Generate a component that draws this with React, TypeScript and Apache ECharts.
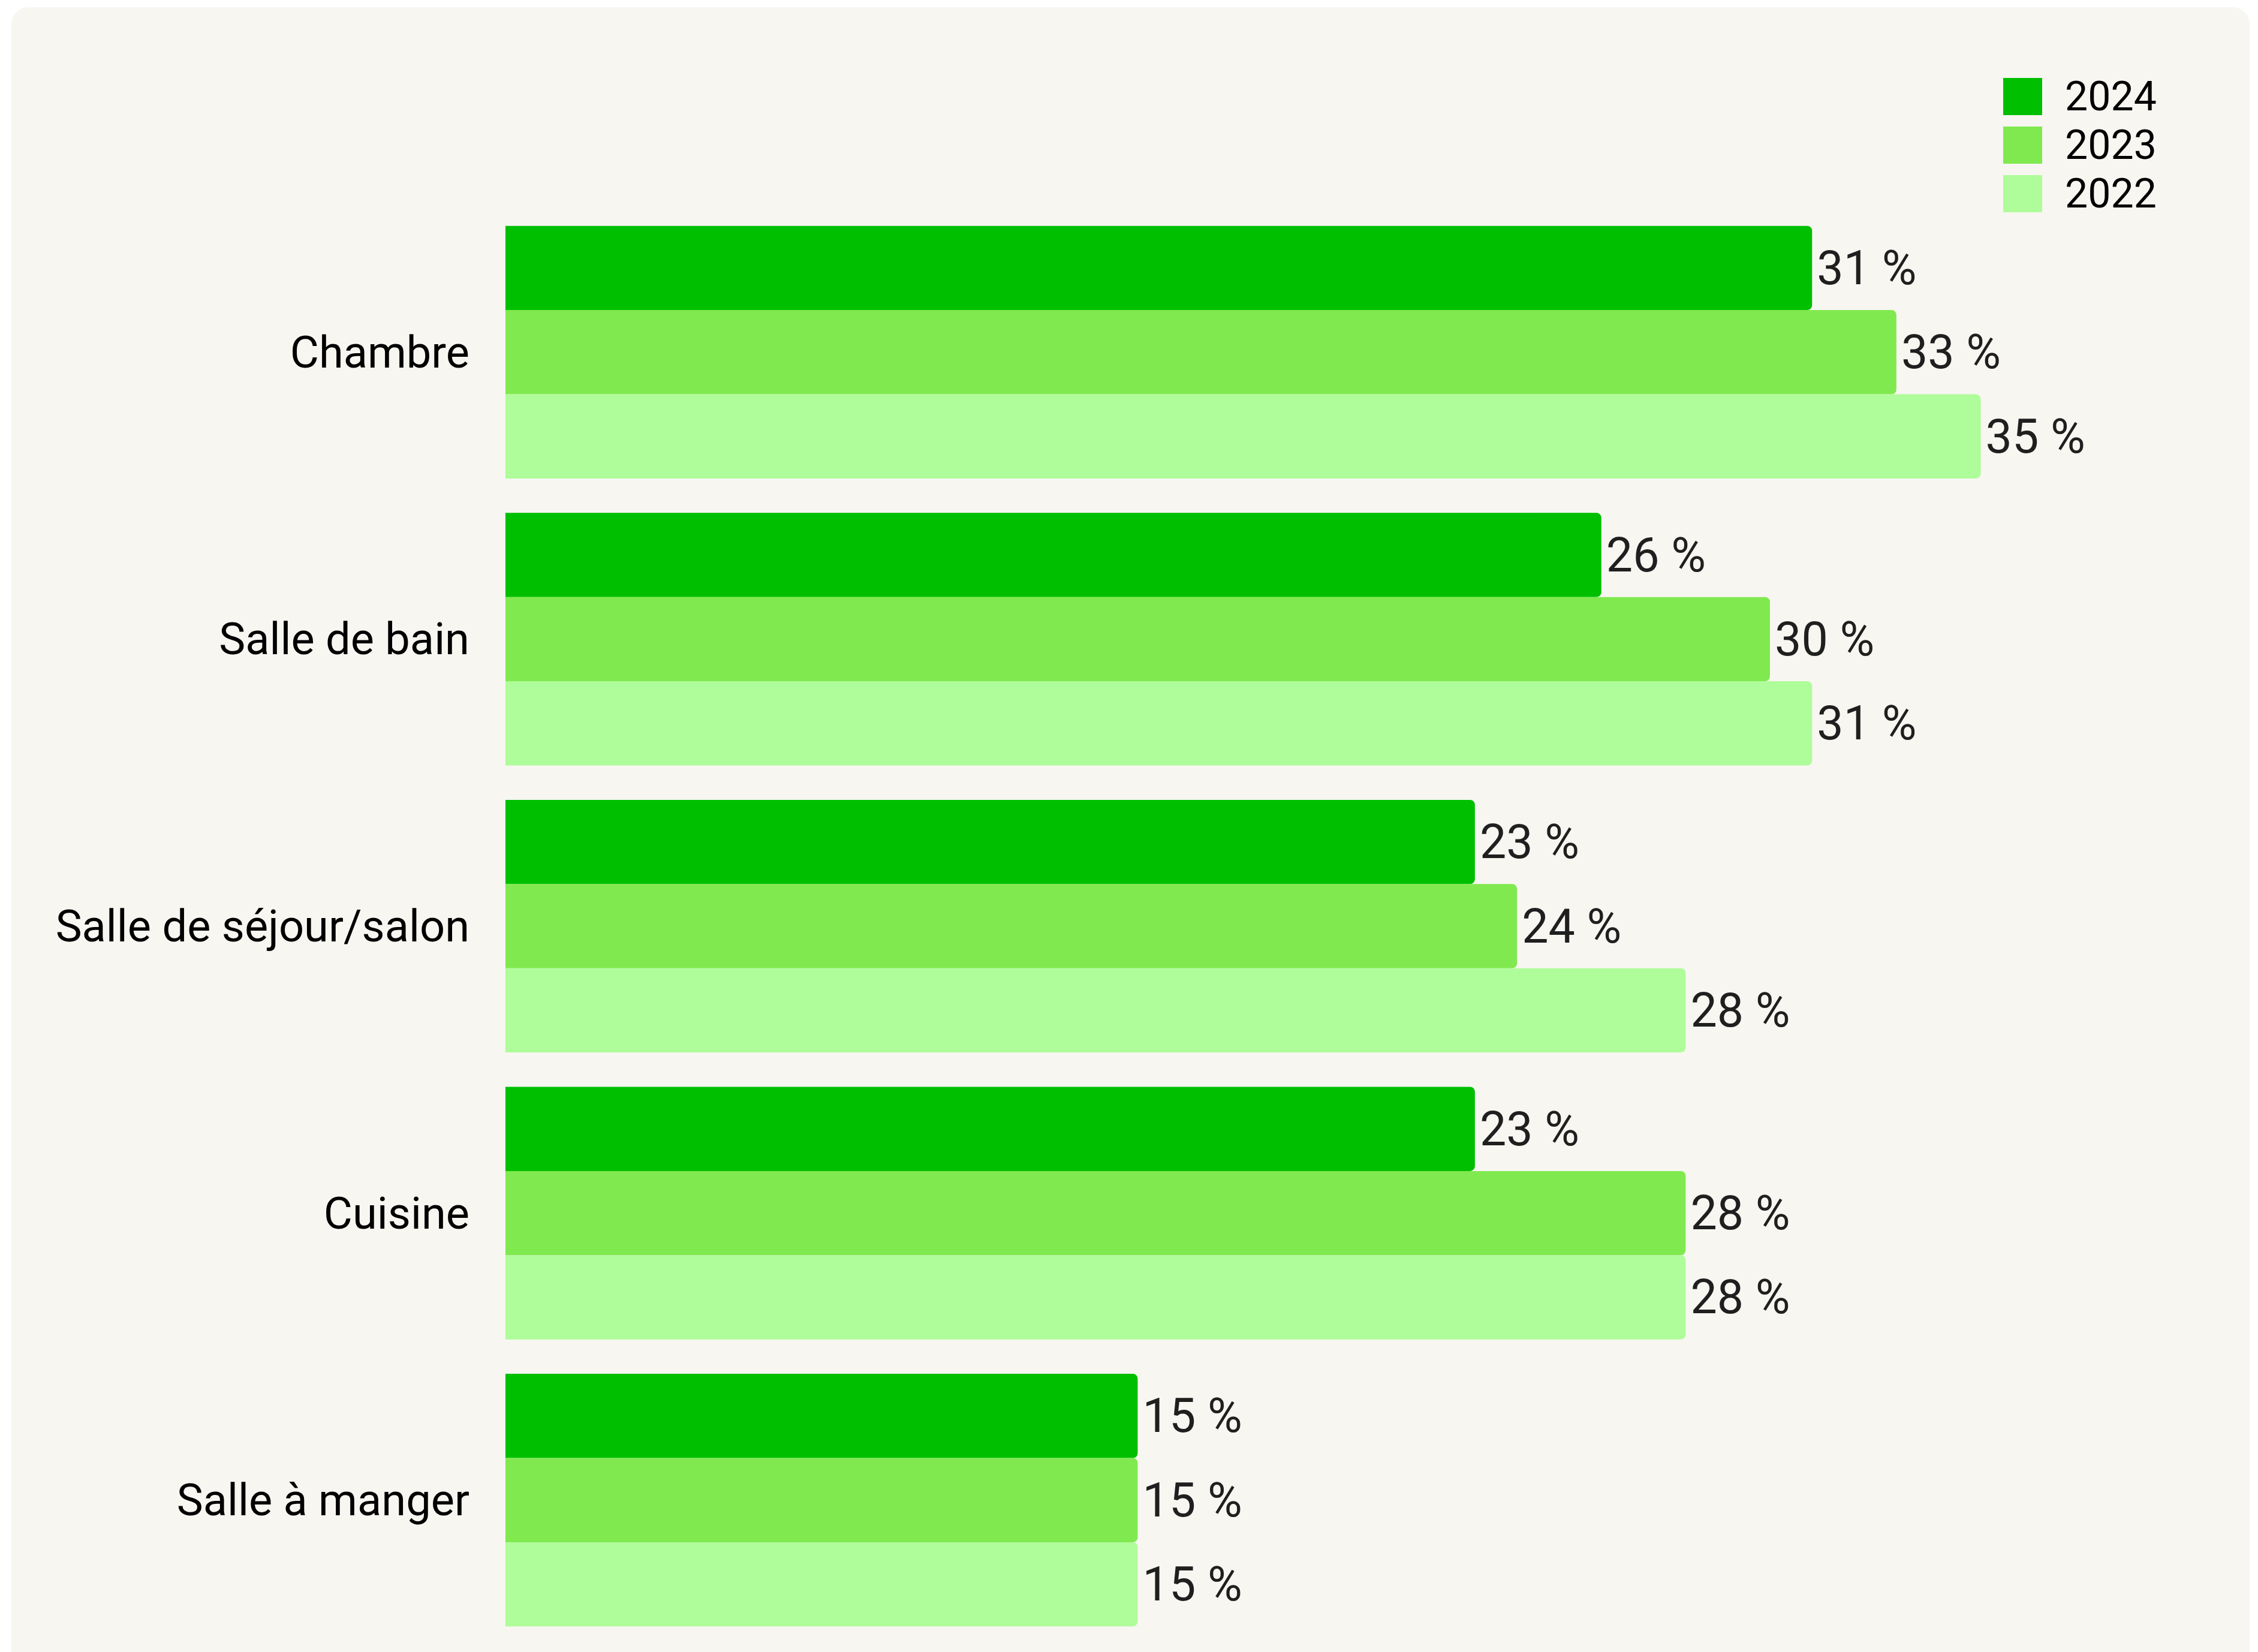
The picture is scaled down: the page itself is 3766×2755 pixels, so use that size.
import React, { useEffect, useRef } from "react";
import * as echarts from "echarts";

const categories = [
  "Chambre",
  "Salle de bain",
  "Salle de séjour/salon",
  "Cuisine",
  "Salle à manger",
];
const years = ["2024", "2023", "2022"];
const values2024 = [31, 26, 23, 23, 15];
const values2023 = [33, 30, 24, 28, 15];
const values2022 = [35, 31, 28, 28, 15];
const colors = ["#00BF00", "#80E94F", "#AFFC9A"];

const FONT = "Roboto";

export default function App() {
  const ref = useRef<HTMLDivElement>(null);

  useEffect(() => {
    const chart = echarts.init(ref.current as HTMLDivElement, null, {
      renderer: "svg",
    });
    const seriesData = [values2024, values2023, values2022];
    chart.setOption({
      animation: false,
      backgroundColor: "#FFFFFF",
      graphic: [
        {
          type: "rect",
          z: -10,
          silent: true,
          shape: { x: 19, y: 12, width: 3733, height: 2770, r: 28 },
          style: { fill: "#F7F6F1" },
        },
      ],
      legend: {
        orient: "vertical",
        left: 3336,
        top: 122,
        itemWidth: 65,
        itemHeight: 62,
        itemGap: 13,
        icon: "rect",
        data: years,
        selectedMode: false,
        textStyle: {
          fontFamily: FONT,
          fontSize: 68,
          color: "#000000",
          lineHeight: 62,
          padding: [0, 0, 0, 33],
        },
      },
      grid: {
        left: 843,
        top: 348,
        right: 111,
        bottom: 14,
        containLabel: false,
      },
      xAxis: {
        type: "value",
        min: 0,
        max: 40,
        axisLine: { show: false },
        axisTick: { show: false },
        axisLabel: { show: false },
        splitLine: { show: false },
      },
      yAxis: {
        type: "category",
        data: categories,
        inverse: true,
        axisLine: { show: false },
        axisTick: { show: false },
        axisLabel: {
          fontFamily: FONT,
          fontSize: 74,
          color: "#000000",
          margin: 60,
        },
      },
      series: years.map((y, i) => ({
        name: y,
        type: "bar",
        data: seriesData[i],
        barGap: "0%",
        barCategoryGap: "12%",
        itemStyle: { color: colors[i], borderRadius: [0, 8, 8, 0] },
        label: {
          show: true,
          position: "right",
          distance: 8,
          formatter: "{c} %",
          fontFamily: FONT,
          fontSize: 79,
          color: "#1F1F1F",
        },
      })),
    });
    return () => chart.dispose();
  }, []);

  return (
    <div
      ref={ref}
      style={{
        position: "absolute",
        left: 0,
        top: 0,
        width: 3766,
        height: 2755,
        background: "#FFFFFF",
      }}
    />
  );
}
